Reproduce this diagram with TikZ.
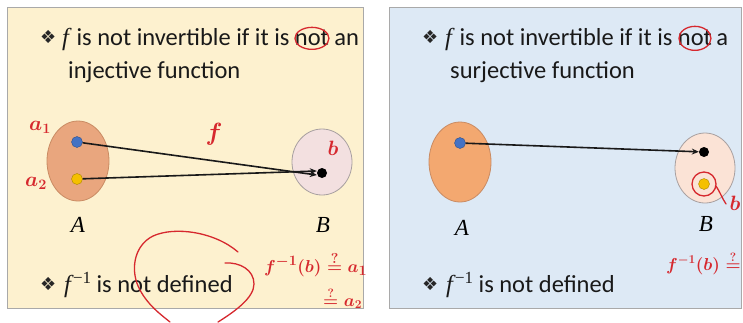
\documentclass[tikz,border=0pt]{standalone}
\usepackage{fontspec}
\setmainfont{Carlito}
\newfontfamily\dv{DejaVu Sans}
\newfontfamily\serifit{Liberation Serif}
\usetikzlibrary{arrows.meta,shapes.geometric}
\definecolor{panelY}{HTML}{FDF1CF}
\definecolor{panelB}{HTML}{DDE9F5}
\definecolor{frame}{HTML}{A9A9A9}
\definecolor{setAleft}{HTML}{E9A67E}
\definecolor{setAright}{HTML}{F3A870}
\definecolor{setAborder}{HTML}{C98B63}
\definecolor{setBleft}{HTML}{F3E0E0}
\definecolor{setBright}{HTML}{FBE3D6}
\definecolor{setBborder}{HTML}{A8A0A0}
\definecolor{dotblue}{HTML}{4472C4}
\definecolor{dotyellow}{HTML}{F5C000}
\definecolor{ink}{HTML}{D6282E}
\newcommand{\fit}{{\serifit\itshape f}\kern2pt}
\newcommand{\finv}{{\serifit\itshape f}\kern2pt\raisebox{9pt}{\serifit\fontsize{17}{18}\selectfont −1}}
\begin{document}
\begin{tikzpicture}[x=1pt,y=-1pt,
  panel/.style={draw=frame,line width=1pt},
  txt/.style={anchor=base west,inner sep=0pt,font=\fontsize{24.5}{30}\selectfont,text=black!90},
  bul/.style={anchor=base west,inner sep=0pt,font=\dv\fontsize{18}{20}\selectfont,text=black!85},
  seta/.style={ellipse,draw=setAborder,line width=0.8pt,minimum width=62pt,minimum height=80pt,inner sep=0pt},
  setb/.style={ellipse,draw=setBborder,line width=0.8pt,minimum width=60pt,minimum height=66pt,inner sep=0pt},
  dot/.style={circle,inner sep=0pt,minimum size=11pt},
  lbl/.style={font=\serifit\itshape\fontsize{23}{26}\selectfont,inner sep=0pt},
  arr/.style={line width=1.6pt,draw=black!90,-{Stealth[length=7pt,width=6pt]}},
  ink/.style={draw=ink,line width=1.3pt,line cap=round},
  hw/.style={text=ink,inner sep=0pt}
]
\useasboundingbox (0,0) rectangle (743,322);
\fill[white] (0,0) rectangle (743,322);
% panels
\draw[panel,fill=panelY] (7,7) rectangle (363,308);
\draw[panel,fill=panelB] (389,7) rectangle (741,308);

% ---------- left panel ----------
\node[bul] (lb1) at (40,43) {❖};
\node[txt] (lt1) at (62,45) {\fit{} is not invertible if it is};
\node[txt] (lnot) at ([xshift=5pt]lt1.base east) {not};
\node[txt] (lt1b) at ([xshift=5pt]lnot.base east) {an};
\node[txt] (lt2) at (68,78) {injective function};
\node[bul] (lb2) at (40,290) {❖};
\node[txt] (lt3) at (64,292) {\finv{} is not defined};

\node[seta,fill=setAleft] (LA) at (78,161) {};
\node[setb,fill=setBleft] (LB) at (322,162) {};
\node[dot,fill=dotblue,draw=dotblue!70!black] (la1) at (77,142) {};
\node[dot,fill=dotyellow,draw=dotyellow!70!black] (la2) at (77,179) {};
\node[dot,minimum size=10pt,fill=black] (lbd) at (322,173) {};
\draw[arr] (la1) -- ([yshift=-2pt]lbd.west);
\draw[arr] (la2) -- ([yshift=2pt]lbd.west);
\node[lbl] (lAl) at (78,225) {A};
\node[lbl] (lBl) at (323,225) {B};

% red annotations (left)
\node[hw,font=\boldmath\fontsize{20}{22}\selectfont] (ha1) at (40,127) {$a_1$};
\node[hw,font=\boldmath\fontsize{20}{22}\selectfont] (ha2) at (36,183) {$a_2$};
\node[hw,font=\boldmath\fontsize{44}{46}\selectfont] (hf) at (214,134) {$f$};
\node[hw,font=\boldmath\fontsize{22}{24}\selectfont] (hb) at (333,148) {$b$};
\draw[ink] ([yshift=-1pt]lnot.center) ellipse (17pt and 11pt);
\draw[ink] (238,252) .. controls (215,232) and (175,226) .. (153,236)
  .. controls (133,246) and (130,272) .. (140,290)
  .. controls (148,305) and (160,314) .. (170,322);
\draw[ink] (225,263) .. controls (240,262) and (254,270) .. (254,284)
  .. controls (254,298) and (234,312) .. (218,322);
\node[hw,font=\boldmath\fontsize{19}{21}\selectfont,anchor=base west] (hfinv) at (264,272) {$f^{-1}(b)\stackrel{?}{=}a_1$};
\node[hw,font=\boldmath\fontsize{18}{20}\selectfont,anchor=base west] (hfinv2) at (323,306) {$\stackrel{?}{=}a_2$};

% ---------- right panel ----------
\node[bul] (rb1) at (422,43) {❖};
\node[txt] (rt1) at (445,45) {\fit{} is not invertible if it is};
\node[txt] (rnot) at ([xshift=5pt]rt1.base east) {not};
\node[txt] (rt1b) at ([xshift=4pt]rnot.base east) {a};
\node[txt] (rt2) at (450,78) {surjective function};
\node[bul] (rb2) at (422,290) {❖};
\node[txt] (rt3) at (446,292) {\finv{} is not defined};

\node[seta,fill=setAright] (RA) at (460,162) {};
\node[setb,minimum height=70pt,fill=setBright] (RB) at (705,168) {};
\node[dot,fill=dotblue,draw=dotblue!70!black] (ra1) at (460,143) {};
\node[dot,minimum size=10pt,fill=black] (rbd) at (704,152) {};
\node[dot,fill=dotyellow,draw=dotyellow!70!black] (rby) at (704,184) {};
\draw[arr] (ra1) -- (rbd);
\node[lbl] (rAl) at (462,228) {A};
\node[lbl] (rBl) at (706,224) {B};

% red annotations (right)
\draw[ink] ([yshift=-1pt]rnot.center) ellipse (16pt and 12pt);
\draw[ink] (rby) circle (12pt);
\draw[ink] (716,186) .. controls (720,192) and (722,198) .. (726,204);
\node[hw,font=\boldmath\fontsize{22}{24}\selectfont] (rhb) at (735,203) {$b$};
\node[hw,font=\boldmath\fontsize{17}{19}\selectfont,anchor=base west] (rhf) at (666,270) {$f^{-1}(b)\stackrel{?}{=}$};
\end{tikzpicture}
\end{document}
